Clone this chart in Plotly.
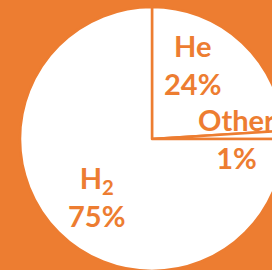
import plotly.graph_objects as go

labels = ["He", "Other", "H<sub>2</sub>"]
values = [24, 1, 75]
ORANGE = "#ED7D31"

W, H = 290, 272
fig = go.Figure(go.Pie(
    labels=labels, values=values, sort=False, direction="clockwise", rotation=0,
    marker=dict(colors=["white"] * 3, line=dict(color=ORANGE, width=2.5)),
    textinfo="none", hoverinfo="none", showlegend=False,
    domain=dict(x=[20 / W, 284 / W], y=[1 / H, 265 / H]),
))

label_pos = [(192, 64), (236, 138), (96, 196)]
for lab, val, (px, py) in zip(labels, values, label_pos):
    fig.add_annotation(
        x=px / W, y=1 - py / H, xref="paper", yref="paper",
        text=f"<b>{lab}<br>{val}%</b>", showarrow=False,
        xanchor="center", yanchor="middle",
        font=dict(family="Lato", size=29, color=ORANGE),
    )

fig.update_layout(
    width=W, height=H, margin=dict(l=0, r=0, t=0, b=0),
    paper_bgcolor=ORANGE, plot_bgcolor=ORANGE,
)
fig.write_html(
    "out.html",
    config={"displayModeBar": False},
    post_script="document.body.style.overflow='hidden';document.body.style.margin='0';document.documentElement.style.overflow='hidden';",
)
